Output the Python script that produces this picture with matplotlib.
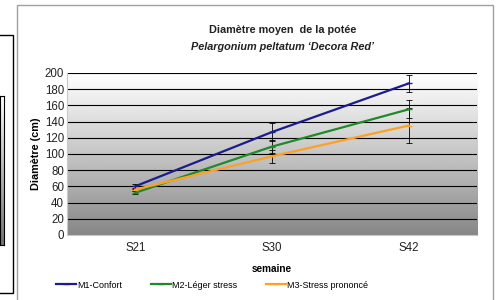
import matplotlib.pyplot as plt
import numpy as np
from matplotlib.patches import Rectangle

plt.rcParams['font.family'] = ['Liberation Sans', 'DejaVu Sans']

weeks = ["S21", "S30", "S42"]
m1 = [60, 127, 187]
m2 = [52, 109, 155]
m3 = [56, 97, 135]
m1_err = [3, 11, 11]
m2_err = [2, 8, 11]
m3_err = [2, 8, 22]
labels = ["M1-Confort", "M2-Léger stress", "M3-Stress prononcé"]
colors = ["#1c1c8c", "#1e8a2a", "#ffa020"]

fig = plt.figure(figsize=(4.99, 3.0), dpi=100)

# left neighbour panel (cut off) and chart frame
fig.patches.append(Rectangle((-0.01, 0.023), 0.037, 0.86, transform=fig.transFigure,
                             fill=False, ec="black", lw=1.0))
fig.patches.append(Rectangle((0.034, -0.01), 0.953, 0.993, transform=fig.transFigure,
                             fill=False, ec="#a0a0a0", lw=1.0))
side = fig.add_axes([0.0, 0.183, 0.008, 0.497])
side.imshow(np.linspace(0.45, 1.0, 64).reshape(-1, 1), cmap="gray", vmin=0, vmax=1,
            origin="lower", aspect="auto")
side.set_xticks([])
side.set_yticks([])

ax = fig.add_axes([0.134, 0.217, 0.822, 0.54])
x = np.arange(len(weeks))
ax.set_xlim(-0.5, 2.5)
ax.set_ylim(0, 200)

# grey gradient background
grad = np.linspace(0.45, 1.0, 256).reshape(-1, 1) ** 0.8
ax.imshow(grad, cmap="gray", vmin=0, vmax=1, origin="lower", aspect="auto",
          extent=(-0.5, 2.5, 0, 200), zorder=0)

for v in range(20, 201, 20):
    ax.axhline(v, color="black", lw=0.8, zorder=1)

for vals, err, lab, c in zip([m1, m2, m3], [m1_err, m2_err, m3_err], labels, colors):
    ax.errorbar(x, vals, yerr=err, ecolor="black", elinewidth=0.6, capsize=2,
                capthick=0.6, fmt="none", zorder=2)
    ax.plot(x, vals, color=c, lw=1.6, marker="_", ms=4, label=lab, zorder=3)

ax.set_xticks(x)
ax.set_xticklabels(weeks, fontsize=8.3, color="#222222")
ax.set_yticks(range(0, 201, 20))
ax.tick_params(axis="y", labelsize=8.3, length=0, pad=2, colors="#222222")
ax.tick_params(axis="x", length=0, pad=5)
for s in ["top", "right"]:
    ax.spines[s].set_visible(False)
ax.spines["left"].set_color("#c8c8c8")
ax.spines["bottom"].set_color("#c8c8c8")

ax.set_ylabel("Diamètre (cm)", fontsize=7.8, fontweight="bold", labelpad=3)
ax.set_xlabel("semaine", fontsize=7.2, fontweight="bold", labelpad=7)

fig.text(0.567, 0.89, "Diamètre moyen  de la potée", ha="center", fontsize=7.8,
         fontweight="bold", color="#222222")
fig.text(0.567, 0.835, "Pelargonium peltatum \u2018Decora Red\u2019", ha="center",
         fontsize=7.8, fontweight="bold", style="italic", color="#222222")

fig.legend(loc="center", bbox_to_anchor=(0.425, 0.05), ncol=3, frameon=False,
           fontsize=6.5, handlelength=2.2, handletextpad=0.1, columnspacing=3.2)

fig.savefig("out.png", dpi=100)
